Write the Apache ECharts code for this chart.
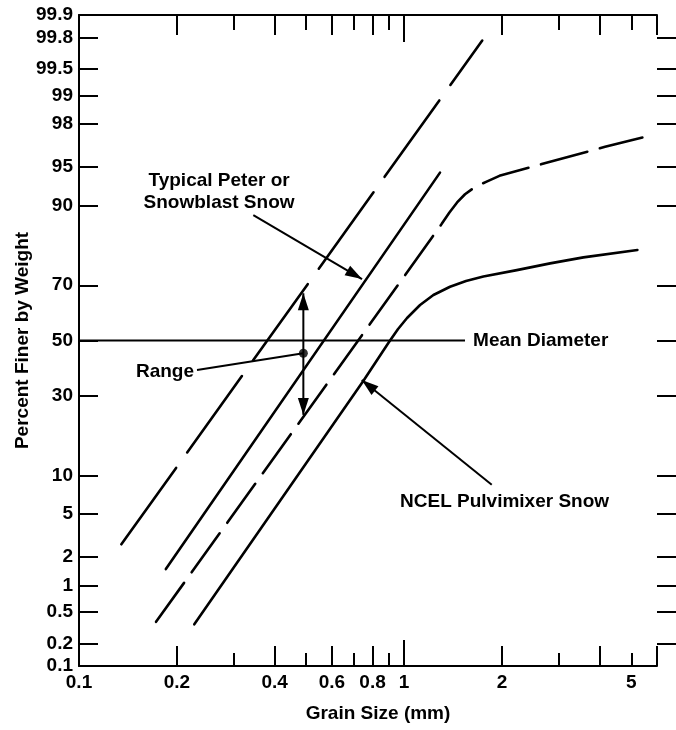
<!DOCTYPE html>
<html><head><meta charset="utf-8">
<script src="https://cdn.jsdelivr.net/npm/echarts@6/dist/echarts.min.js"></script>
<style>html,body{margin:0;padding:0;background:#fff}#c{width:676px;height:730px}</style>
</head><body><div id="c"></div>
<script>
// ---------- data (grain size in mm, percent finer by weight) ----------
const yTickLabels = [0.1, 0.2, 0.5, 1, 2, 5, 10, 30, 50, 70, 90, 95, 98, 99, 99.5, 99.8, 99.9];
const yTickMarks  = [0.2, 0.5, 1, 2, 5, 10, 30, 50, 70, 90, 95, 98, 99, 99.5, 99.8];
const xLabelValues = [0.1, 0.2, 0.4, 0.6, 0.8, 1, 2, 5];
const xLongTicks  = [0.2, 0.4, 0.6, 0.8, 2, 4, 6];
const xShortTicks = [0.3, 0.5, 0.7, 0.9, 3, 5];
const xUnitTick   = [1];
const xMin = 0.1, xMax = 6;
const pMin = 0.1, pMax = 99.9;

// Typical Peter or Snowblast Snow — upper range limit (long dashes)
const peterUpperSize = [0.135, 1.74];
const peterUpperPct  = [2.65, 99.78];
// Typical Peter or Snowblast Snow — mean (solid)
const peterMeanSize = [0.185, 1.29];
const peterMeanPct  = [1.5, 94.45];
// NCEL Pulvimixer Snow — upper limit (dashes)
const ncelUpperSize = [0.1726, 1.0, 1.306, 1.379, 1.456, 1.54, 1.654, 1.788, 1.965, 2.653, 4.154, 5.41];
const ncelUpperPct  = [0.378, 72.8, 86.6, 88.8, 90.5, 91.75, 92.76, 93.4, 94.1, 95.3, 96.7, 97.3];
// NCEL Pulvimixer Snow — mean (solid)
const ncelMeanSize = [0.2263, 0.75, 0.9, 0.9584, 1.0215, 1.12, 1.231, 1.385, 1.551, 1.754, 2.223, 2.814, 3.562, 5.222];
const ncelMeanPct  = [0.352, 35.1, 49.5, 54.35, 58.46, 63.2, 66.7, 69.5, 71.4, 72.8, 74.8, 76.8, 78.5, 80.5];
// Mean diameter reference line
const meanLineSize = [0.1, 1.54];
const meanLinePct  = [50, 50];
// Range marker
const rangeSize = 0.49;
const rangePct = [24.0, 45.2, 67.3]; // bottom, dot, top

// annotation anchors (data units)
const textLabels = [
  {text: 'Typical Peter or\nSnowblast Snow', size: 0.2697, pct: 92.1, align: 'center'},
  {text: 'Range', size: 0.2258, pct: 38.4, align: 'right'},
  {text: 'Mean Diameter', size: 1.631, pct: 50, align: 'left'},
  {text: 'NCEL Pulvimixer Snow', size: 0.972, pct: 6.29, align: 'left'}
];
const arrowList = [
  {from: [0.3438, 88.3], to: [0.7425, 72.0], head: 1},
  {from: [1.861, 8.54], to: [0.741, 35.4], head: 1},
  {from: [0.2307, 39.0], to: [rangeSize, rangePct[1]], head: 0},
  {from: [rangeSize, rangePct[1]], to: [rangeSize, rangePct[2]], head: 1},
  {from: [rangeSize, rangePct[1]], to: [rangeSize, rangePct[0]], head: 1}
];

// ---------- transforms ----------
function probit(p) {
  const a=[-3.969683028665376e+01,2.209460984245205e+02,-2.759285104469687e+02,1.383577518672690e+02,-3.066479806614716e+01,2.506628277459239e+00];
  const b=[-5.447609879822406e+01,1.615858368580409e+02,-1.556989798598866e+02,6.680131188771972e+01,-1.328068155288572e+01];
  const c=[-7.784894002430293e-03,-3.223964580411365e-01,-2.400758277161838e+00,-2.549732539343734e+00,4.374664141464968e+00,2.938163982698783e+00];
  const d=[7.784695709041462e-03,3.224671290700398e-01,2.445134137142996e+00,3.754408661907416e+00];
  const pl=0.02425, ph=1-pl; let q, r;
  if (p < pl) { q=Math.sqrt(-2*Math.log(p)); return (((((c[0]*q+c[1])*q+c[2])*q+c[3])*q+c[4])*q+c[5])/((((d[0]*q+d[1])*q+d[2])*q+d[3])*q+1); }
  if (p <= ph) { q=p-0.5; r=q*q; return (((((a[0]*r+a[1])*r+a[2])*r+a[3])*r+a[4])*r+a[5])*q/(((((b[0]*r+b[1])*r+b[2])*r+b[3])*r+b[4])*r+1); }
  q=Math.sqrt(-2*Math.log(1-p)); return -(((((c[0]*q+c[1])*q+c[2])*q+c[3])*q+c[4])*q+c[5])/((((d[0]*q+d[1])*q+d[2])*q+d[3])*q+1);
}
const X = s => Math.log10(s);
const Y = p => probit(p / 100);
const pts = (xs, ys) => xs.map((x, i) => [X(x), Y(ys[i])]);
function nearestLabel(v, list, tf) {
  let best = list[0], bd = Infinity;
  list.forEach(t => { const d = Math.abs(tf(t) - v); if (d < bd) { bd = d; best = t; } });
  return String(best);
}

const FONT = "'Liberation Sans', Arial, Helvetica, sans-serif";
const FS = 19;
const txt = {color: '#000', fontFamily: FONT, fontWeight: 'bold', fontSize: FS};
const black = '#000';

function xAxisDef(pos, tickVals, len, opts) {
  return Object.assign({
    type: 'value', position: pos, gridIndex: 0,
    min: X(xMin), max: X(xMax),
    axisLine: {show: false, onZero: false},
    axisTick: {show: true, inside: true, length: len, customValues: tickVals.map(X), lineStyle: {color: black, width: 2}},
    axisLabel: {show: false},
    splitLine: {show: false}
  }, opts || {});
}

const chart = echarts.init(document.getElementById('c'), null, {renderer: 'canvas'});
chart.setOption({
  animation: false,
  backgroundColor: '#fff',
  grid: {left: 79, top: 15, right: 19, bottom: 64, containLabel: false, outerBoundsMode: 'none'},
  xAxis: [
    xAxisDef('bottom', xLongTicks, 20, {
      axisLine: {show: true, onZero: false, lineStyle: {color: black, width: 2}},
      axisLabel: {show: true, customValues: xLabelValues.map(X), margin: 7, ...txt,
        formatter: v => nearestLabel(v, xLabelValues, X)},
      name: 'Grain Size (mm)', nameLocation: 'middle', nameGap: 38,
      nameTextStyle: {...txt, padding: [0, 0, 0, 20]}
    }),
    xAxisDef('bottom', xShortTicks, 13),
    xAxisDef('bottom', xUnitTick, 26),
    xAxisDef('top', xLongTicks, 20, {axisLine: {show: true, onZero: false, lineStyle: {color: black, width: 2}}}),
    xAxisDef('top', xShortTicks, 15),
    xAxisDef('top', xUnitTick, 27)
  ],
  yAxis: [
    {
      type: 'value', position: 'left', min: Y(pMin), max: Y(pMax),
      axisLine: {show: true, onZero: false, lineStyle: {color: black, width: 2}},
      axisTick: {show: true, inside: true, length: 19, customValues: yTickMarks.map(Y), lineStyle: {color: black, width: 2}},
      axisLabel: {show: true, customValues: yTickLabels.map(Y), margin: 6, ...txt,
        formatter: v => nearestLabel(v, yTickLabels, Y)},
      splitLine: {show: false},
      name: 'Percent Finer by Weight', nameLocation: 'middle', nameGap: 47, nameRotate: 90,
      nameMoveOverlap: false,
      nameTextStyle: txt
    },
    {
      type: 'value', position: 'right', min: Y(pMin), max: Y(pMax),
      axisLine: {show: false, onZero: false},
      axisTick: {show: true, inside: false, length: 19, customValues: yTickMarks.map(Y), lineStyle: {color: black, width: 2}},
      axisLabel: {show: false},
      splitLine: {show: false}
    }
  ],
  series: [
    {type: 'line', name: 'Peter upper', data: pts(peterUpperSize, peterUpperPct), showSymbol: false, silent: true,
      lineStyle: {color: black, width: 2.6, type: [94, 19], cap: 'round'}},
    {type: 'line', name: 'Peter mean', data: pts(peterMeanSize, peterMeanPct), showSymbol: false, silent: true,
      lineStyle: {color: black, width: 2.6, cap: 'round'}},
    {type: 'line', name: 'NCEL upper', data: pts(ncelUpperSize, ncelUpperPct), showSymbol: false, silent: true,
      lineStyle: {color: black, width: 2.6, type: [48, 13], cap: 'round', join: 'round'}},
    {type: 'line', name: 'NCEL mean', data: pts(ncelMeanSize, ncelMeanPct), showSymbol: false, silent: true,
      lineStyle: {color: black, width: 2.6, cap: 'round', join: 'round'}},
    {type: 'line', name: 'Mean Diameter', data: pts(meanLineSize, meanLinePct), showSymbol: false, silent: true,
      lineStyle: {color: black, width: 2}},
    {type: 'scatter', data: [[X(rangeSize), Y(rangePct[1])]], symbol: 'circle', symbolSize: 9, silent: true,
      itemStyle: {color: black}},
    {type: 'custom', silent: true, clip: false,
      data: arrowList.map(a => [X(a.from[0]), Y(a.from[1]), X(a.to[0]), Y(a.to[1]), a.head]),
      encode: {x: [0, 2], y: [1, 3]},
      renderItem: (params, api) => {
        const p1 = api.coord([api.value(0), api.value(1)]);
        const p2 = api.coord([api.value(2), api.value(3)]);
        const children = [{type: 'line', shape: {x1: p1[0], y1: p1[1], x2: p2[0], y2: p2[1]},
          style: {stroke: black, lineWidth: 2}}];
        if (api.value(4)) {
          const dx = p2[0] - p1[0], dy = p2[1] - p1[1], L = Math.hypot(dx, dy);
          const ux = dx / L, uy = dy / L, hl = 17, hw = 5.5;
          const bx = p2[0] - ux * hl, by = p2[1] - uy * hl;
          children.push({type: 'polygon', shape: {points: [[p2[0], p2[1]], [bx - uy * hw, by + ux * hw], [bx + uy * hw, by - ux * hw]]},
            style: {fill: black}});
        }
        return {type: 'group', children};
      }},
    {type: 'custom', silent: true, clip: false,
      data: textLabels.map((t, i) => [X(t.size), Y(t.pct), i]),
      renderItem: (params, api) => {
        const t = textLabels[api.value(2)];
        const p = api.coord([api.value(0), api.value(1)]);
        return {type: 'text', x: p[0], y: p[1],
          style: {text: t.text, fill: black, fontFamily: FONT, fontWeight: 'bold', fontSize: FS,
            lineHeight: 22, align: t.align, verticalAlign: 'middle'}};
      }}
  ]
});
</script>
</body></html>
